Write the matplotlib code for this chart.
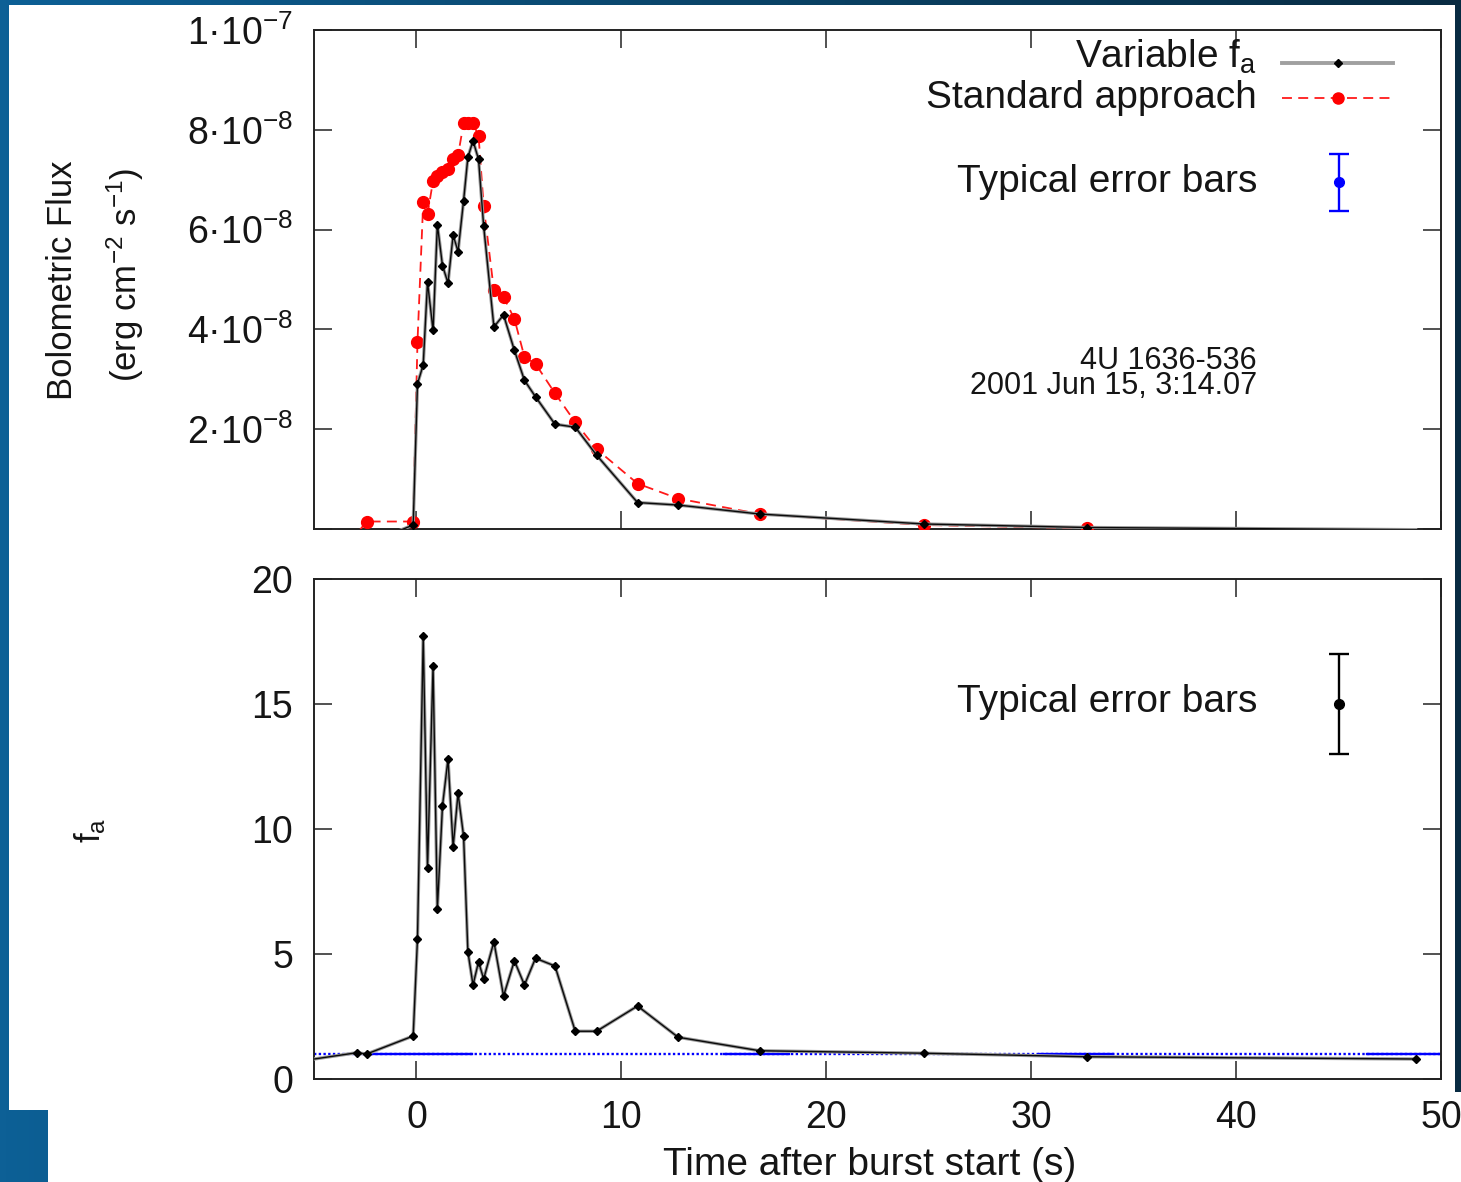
import numpy as np
import matplotlib
matplotlib.use("Agg")
import matplotlib.pyplot as plt
from matplotlib.colors import LinearSegmentedColormap
from matplotlib.patches import Polygon
from matplotlib.lines import Line2D

# ---------------- data ----------------
time_s = [-5.9, -2.92, -2.43, -0.16, 0.05, 0.33, 0.54, 0.81, 1.02, 1.27, 1.54, 1.79,
          2.03, 2.30, 2.51, 2.76, 3.03, 3.28, 3.78, 4.25, 4.78, 5.27, 5.81, 6.76,
          7.75, 8.79, 10.79, 12.77, 16.75, 24.78, 32.72, 48.76]

flux_variable = [-4e-9, -3e-9, -3e-9, 0.8e-9, 2.91e-8, 3.29e-8, 4.95e-8, 3.98e-8,
                 6.10e-8, 5.28e-8, 4.93e-8, 5.89e-8, 5.56e-8, 6.58e-8, 7.45e-8,
                 7.78e-8, 7.41e-8, 6.07e-8, 4.05e-8, 4.29e-8, 3.58e-8, 2.98e-8,
                 2.65e-8, 2.10e-8, 2.04e-8, 1.48e-8, 0.53e-8, 0.48e-8, 0.30e-8,
                 0.10e-8, 0.03e-8, -0.014e-8]

flux_standard = [-2e-9, -1e-9, 1.5e-9, 1.5e-9, 3.75e-8, 6.55e-8, 6.31e-8, 6.98e-8,
                 7.08e-8, 7.15e-8, 7.21e-8, 7.41e-8, 7.49e-8, 8.13e-8, 8.13e-8,
                 8.13e-8, 7.88e-8, 6.47e-8, 4.78e-8, 4.65e-8, 4.21e-8, 3.45e-8,
                 3.31e-8, 2.72e-8, 2.14e-8, 1.60e-8, 0.91e-8, 0.61e-8, 0.30e-8,
                 0.08e-8, 0.014e-8, -0.029e-8]

fa_values = [0.69, 1.05, 1.00, 1.72, 5.6, 17.72, 8.43, 16.52, 6.79, 10.92, 12.8, 9.29,
             11.43, 9.72, 5.09, 3.76, 4.69, 4.00, 5.49, 3.32, 4.73, 3.76, 4.83, 4.52,
             1.91, 1.91, 2.92, 1.67, 1.13, 1.03, 0.89, 0.80]

fa_reference = 1.0
fa_ref_solid_ranges = [(-2.4, 2.7), (15.0, 18.2), (30.4, 34.0), (46.4, 50.0)]

flux_err_x, flux_err_y, flux_err = 45.0, 6.95e-8, 0.57e-8
fa_err_x, fa_err_y, fa_err = 45.0, 15.0, 2.0

time_ticks = [0, 10, 20, 30, 40, 50]
time_tick_labels = ["0", "10", "20", "30", "40", "50"]
flux_ticks = [0, 2e-8, 4e-8, 6e-8, 8e-8, 1e-7]
flux_tick_labels = ["", "2·10$^{\\mathregular{-8}}$", "4·10$^{\\mathregular{-8}}$",
                    "6·10$^{\\mathregular{-8}}$", "8·10$^{\\mathregular{-8}}$",
                    "1·10$^{\\mathregular{-7}}$"]
fa_ticks = [0, 5, 10, 15, 20]
fa_tick_labels = ["0", "5", "10", "15", "20"]

# ---------------- style ----------------
plt.rcParams["font.family"] = ["Liberation Sans", "DejaVu Sans"]
plt.rcParams["mathtext.fontset"] = "custom"
plt.rcParams["mathtext.rm"] = "Liberation Sans"
plt.rcParams["mathtext.it"] = "Liberation Sans:italic"
plt.rcParams["mathtext.bf"] = "Liberation Sans:bold"

W, H = 1461, 1182
FS = 28        # horizontal texts
FST = 27       # tick labels
FSV = 25       # rotated axis titles
FSA = 22       # annotation
TXT = "#151515"
fig = plt.figure(figsize=(W / 100, H / 100), dpi=100)


def fx(px):
    return px / W


def fy(py):
    return 1 - py / H


# background (slide frame)
bg = fig.add_axes([0, 0, 1, 1], zorder=-10)
bg.axis("off")
cmap_bg = LinearSegmentedColormap.from_list("bg", ["#0d6096", "#0a4468", "#082b42"])
bg.imshow(np.linspace(0, 1, 256)[None, :], aspect="auto", extent=[0, 1, 0, 1],
          cmap=cmap_bg, transform=bg.transAxes)
white = Polygon([(fx(9), fy(5)), (fx(1455), fy(5)), (fx(1455), fy(1092)),
                 (1, fy(1092)), (1, 0), (fx(48), 0),
                 (fx(48), fy(1110)), (fx(9), fy(1110))], closed=True,
                facecolor="white", edgecolor="none", transform=fig.transFigure)
bg.add_patch(white)
bg.set_xlim(0, 1)
bg.set_ylim(0, 1)

ax1 = fig.add_axes([fx(314), fy(529), (1441 - 314) / W, (529 - 30) / H])
ax2 = fig.add_axes([fx(314), fy(1079), (1441 - 314) / W, (1079 - 579) / H])

for ax in (ax1, ax2):
    ax.set_xlim(-5, 50)
    ax.tick_params(direction="in", length=13, width=1.1, top=True, right=True,
                   labelsize=FST, labelcolor=TXT, pad=15, color="#222222")
    for sp in ax.spines.values():
        sp.set_linewidth(1.4)
        sp.set_color("#222222")
    ax.set_xticks(time_ticks)

# markers only where the point lies inside the panel
vis_var = [i for i, v in enumerate(flux_variable) if v > 0]
vis_std = [i for i, v in enumerate(flux_standard) if v > 0]

# ---------------- top panel ----------------
ax1.set_ylim(0, 1e-7)
ax1.set_yticks(flux_ticks)
ax1.set_yticklabels(flux_tick_labels)
ax1.set_xticklabels([])

ax1.plot(time_s, flux_standard, color="#ff1a1a", lw=1.3, dashes=(5.5, 3.5),
         marker="o", ms=8.5, mfc="#ff0000", mec="#ff0000", markevery=vis_std, zorder=3)
ax1.plot(time_s, flux_variable, color="#9a9a9a", lw=2.4, zorder=4)
ax1.plot(time_s, flux_variable, color="#0a0a0a", lw=1.0, marker="D", ms=4.3,
         mfc="#000000", mec="#000000", markevery=vis_var, zorder=5)

ax1.errorbar([flux_err_x], [flux_err_y], yerr=[flux_err], fmt="o", color="#0000ff",
             ms=7, elinewidth=1.7, capsize=7, capthick=1.7, zorder=6)

# legend (gnuplot style: right-aligned text, sample at right)
ax1.text(0.8367, 0.924, "Variable f$_{\\mathregular{a}}$", transform=ax1.transAxes,
         ha="right", va="baseline", fontsize=FS, color=TXT)
ax1.text(0.8367, 0.844, "Standard approach", transform=ax1.transAxes,
         ha="right", va="baseline", fontsize=FS, color=TXT)
ax1.add_line(Line2D([0.859, 0.957], [0.934, 0.934], transform=ax1.transAxes,
                    color="#a0a0a0", lw=2.8))
ax1.add_line(Line2D([0.9086], [0.934], transform=ax1.transAxes, marker="D", ms=4.3,
                    color="#000000", lw=0))
ax1.add_line(Line2D([0.859, 0.957], [0.864, 0.864], transform=ax1.transAxes,
                    color="#ff1a1a", lw=1.3, dashes=(5.5, 3.5)))
ax1.add_line(Line2D([0.9086], [0.864], transform=ax1.transAxes, marker="o", ms=8,
                    color="#ff0000", lw=0))
ax1.text(0.8367, 0.675, "Typical error bars", transform=ax1.transAxes,
         ha="right", va="baseline", fontsize=FS, color=TXT)
ax1.text(0.8367, 0.367, "4U 1636-536\n2001 Jun 15, 3:14.07", transform=ax1.transAxes,
         ha="right", va="top", multialignment="right", linespacing=0.8,
         fontsize=FSA, color=TXT)

# ---------------- bottom panel ----------------
ax2.set_ylim(0, 20)
ax2.set_yticks(fa_ticks)
ax2.set_yticklabels(fa_tick_labels)
ax2.set_xticklabels(time_tick_labels)

ax2.axhline(fa_reference, color="#0000ff", lw=1.7, ls=(0, (1, 1)), zorder=2)
for a, b in fa_ref_solid_ranges:
    ax2.plot([a, b], [fa_reference, fa_reference], color="#0000ff", lw=1.7, zorder=2)

ax2.plot(time_s, fa_values, color="#9a9a9a", lw=2.4, zorder=4)
ax2.plot(time_s, fa_values, color="#0a0a0a", lw=1.0, marker="D", ms=4.3,
         mfc="#000000", mec="#000000", zorder=5)

ax2.errorbar([fa_err_x], [fa_err_y], yerr=[fa_err], fmt="o", color="#000000",
             ms=7, elinewidth=1.7, capsize=7, capthick=1.7, zorder=6)
ax2.text(0.8367, 0.734, "Typical error bars", transform=ax2.transAxes,
         ha="right", va="baseline", fontsize=FS, color=TXT)

# ---------------- axis titles ----------------
fig.text(fx(62), fy(280), "Bolometric Flux", rotation=90, ha="center", va="center",
         fontsize=FSV, color=TXT)
fig.text(fx(125), fy(275), "(erg cm$^{\\mathregular{-2}}$ s$^{\\mathregular{-1}}$)",
         rotation=90, ha="center", va="center", fontsize=FSV, color=TXT)
fig.text(fx(90), fy(830), "f$_{\\mathregular{a}}$", rotation=90, ha="center",
         va="center", fontsize=FSV, color=TXT)
fig.text(fx(870), fy(1165), "Time after burst start (s)", ha="center", va="center",
         fontsize=FS, color=TXT)

fig.savefig("out.png", dpi=100, facecolor=fig.get_facecolor())
